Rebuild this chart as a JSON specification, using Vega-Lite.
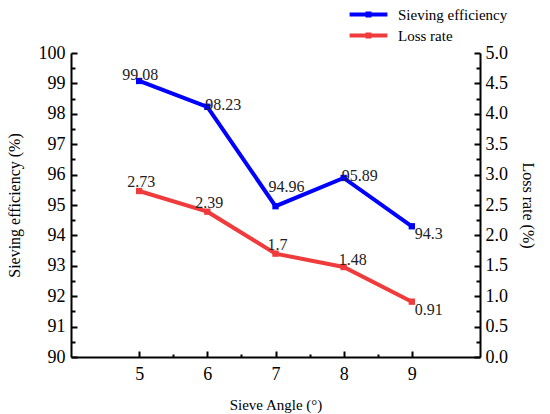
{
  "$schema": "https://vega.github.io/schema/vega-lite/v6.json",
  "width": 409,
  "height": 304,
  "autosize": "none",
  "padding": {"left": 71, "top": 53, "right": 70, "bottom": 57},
  "data": {
    "values": [
      {"angle": 5, "series": "Sieving efficiency", "value": 99.08},
      {"angle": 6, "series": "Sieving efficiency", "value": 98.23},
      {"angle": 7, "series": "Sieving efficiency", "value": 94.96},
      {"angle": 8, "series": "Sieving efficiency", "value": 95.89},
      {"angle": 9, "series": "Sieving efficiency", "value": 94.3},
      {"angle": 5, "series": "Loss rate", "value": 2.73},
      {"angle": 6, "series": "Loss rate", "value": 2.39},
      {"angle": 7, "series": "Loss rate", "value": 1.7},
      {"angle": 8, "series": "Loss rate", "value": 1.48},
      {"angle": 9, "series": "Loss rate", "value": 0.91}
    ]
  },
  "encoding": {
    "x": {
      "field": "angle",
      "type": "quantitative",
      "scale": {"domain": [4, 10], "nice": false, "zero": false},
      "axis": {
        "title": "Sieve Angle (°)",
        "titleFontSize": 15,
        "titlePadding": 14,
        "values": [5, 5.5, 6, 6.5, 7, 7.5, 8, 8.5, 9],
        "labelExpr": "datum.value % 1 == 0 ? format(datum.value, 'd') : ''",
        "tickSize": {"condition": {"test": "datum.value % 1 == 0", "value": -6}, "value": -3},
        "labelPadding": 14
      }
    }
  },
  "layer": [
    {
      "transform": [{"filter": "datum.series == 'Sieving efficiency'"}],
      "encoding": {
        "y": {
          "field": "value",
          "type": "quantitative",
          "scale": {"domain": [90, 100], "nice": false, "zero": false},
          "axis": {
            "orient": "left",
            "title": "Sieving efficiency (%)",
            "titleFontSize": 16,
            "titlePadding": 16,
            "values": [90, 90.5, 91, 91.5, 92, 92.5, 93, 93.5, 94, 94.5, 95, 95.5, 96, 96.5, 97, 97.5, 98, 98.5, 99, 99.5, 100],
            "labelExpr": "datum.value % 1 == 0 ? format(datum.value, 'd') : ''",
            "tickSize": {"condition": {"test": "datum.value % 1 == 0", "value": -6}, "value": -4},
            "labelPadding": 12
          }
        }
      },
      "layer": [
        {"mark": {"type": "line", "color": "#0000FF", "strokeWidth": 4}},
        {
          "mark": {"type": "point", "shape": "square", "filled": true, "size": 40, "opacity": 1},
          "encoding": {
            "color": {
              "field": "series",
              "type": "nominal",
              "scale": {"domain": ["Sieving efficiency", "Loss rate"], "range": ["#0000FF", "#EF3B3B"]},
              "legend": {
                "orient": "none",
                "legendX": 290,
                "legendY": -46,
                "title": null,
                "symbolType": "M-2.7,-0.29H2.7V0.29H-2.7Z M-0.43,-0.43H0.43V0.43H-0.43Z",
                "symbolSize": 196,
                "symbolStrokeWidth": 0,
                "symbolOpacity": 1,
                "labelFont": "Liberation Serif",
                "labelFontSize": 15,
                "labelColor": "black",
                "labelOffset": 22,
                "rowPadding": 5
              }
            }
          }
        },
        {
          "transform": [{"filter": "datum.angle == 5"}],
          "mark": {"type": "text", "align": "center", "baseline": "alphabetic", "dx": 1, "dy": -1, "fontSize": 16, "color": "#222"},
          "encoding": {"text": {"field": "value", "type": "quantitative"}}
        },
        {
          "transform": [{"filter": "datum.angle == 7"}],
          "mark": {"type": "text", "align": "center", "baseline": "alphabetic", "dx": 11, "dy": -14, "fontSize": 16, "color": "#222"},
          "encoding": {"text": {"field": "value", "type": "quantitative"}}
        },
        {
          "transform": [{"filter": "datum.angle == 6 || datum.angle == 8"}],
          "mark": {"type": "text", "align": "left", "baseline": "alphabetic", "dx": -2, "dy": 3, "fontSize": 16, "color": "#222"},
          "encoding": {"text": {"field": "value", "type": "quantitative"}}
        },
        {
          "transform": [{"filter": "datum.angle == 9"}],
          "mark": {"type": "text", "align": "left", "baseline": "top", "dx": 3, "dy": 0, "fontSize": 16, "color": "#222"},
          "encoding": {"text": {"field": "value", "type": "quantitative"}}
        }
      ]
    },
    {
      "transform": [{"filter": "datum.series == 'Loss rate'"}],
      "encoding": {
        "y": {
          "field": "value",
          "type": "quantitative",
          "scale": {"domain": [0, 5], "nice": false},
          "axis": {
            "orient": "right",
            "title": "Loss rate (%)",
            "titleFontSize": 16,
            "titlePadding": 12,
            "values": [0, 0.25, 0.5, 0.75, 1, 1.25, 1.5, 1.75, 2, 2.25, 2.5, 2.75, 3, 3.25, 3.5, 3.75, 4, 4.25, 4.5, 4.75, 5],
            "labelExpr": "datum.value % 0.5 == 0 ? format(datum.value, '.1f') : ''",
            "tickSize": {"condition": {"test": "datum.value % 0.5 == 0", "value": -6}, "value": -4},
            "labelPadding": 11
          }
        }
      },
      "layer": [
        {"mark": {"type": "line", "color": "#EF3B3B", "strokeWidth": 4}},
        {
          "mark": {"type": "point", "shape": "square", "filled": true, "size": 40, "opacity": 1},
          "encoding": {"color": {"field": "series", "type": "nominal"}}
        },
        {
          "transform": [{"filter": "datum.angle <= 7"}],
          "mark": {"type": "text", "align": "center", "baseline": "alphabetic", "dx": 2, "dy": -4, "fontSize": 16, "color": "#222"},
          "encoding": {"text": {"field": "value", "type": "quantitative"}}
        },
        {
          "transform": [{"filter": "datum.angle == 8"}],
          "mark": {"type": "text", "align": "left", "baseline": "alphabetic", "dx": -5, "dy": -2, "fontSize": 16, "color": "#222"},
          "encoding": {"text": {"field": "value", "type": "quantitative"}}
        },
        {
          "transform": [{"filter": "datum.angle == 9"}],
          "mark": {"type": "text", "align": "left", "baseline": "top", "dx": 3, "dy": 0, "fontSize": 16, "color": "#222"},
          "encoding": {"text": {"field": "value", "type": "quantitative"}}
        }
      ]
    }
  ],
  "resolve": {"scale": {"y": "independent"}, "axis": {"y": "independent"}},
  "config": {
    "view": {"stroke": null},
    "text": {"font": "Liberation Serif"},
    "axis": {
      "grid": false,
      "domainColor": "black",
      "domainWidth": 2,
      "tickColor": "black",
      "tickWidth": 2,
      "labelFont": "Liberation Serif",
      "labelFontSize": 18,
      "labelColor": "black",
      "titleFont": "Liberation Serif",
      "titleFontWeight": "normal",
      "titleColor": "black"
    }
  }
}
